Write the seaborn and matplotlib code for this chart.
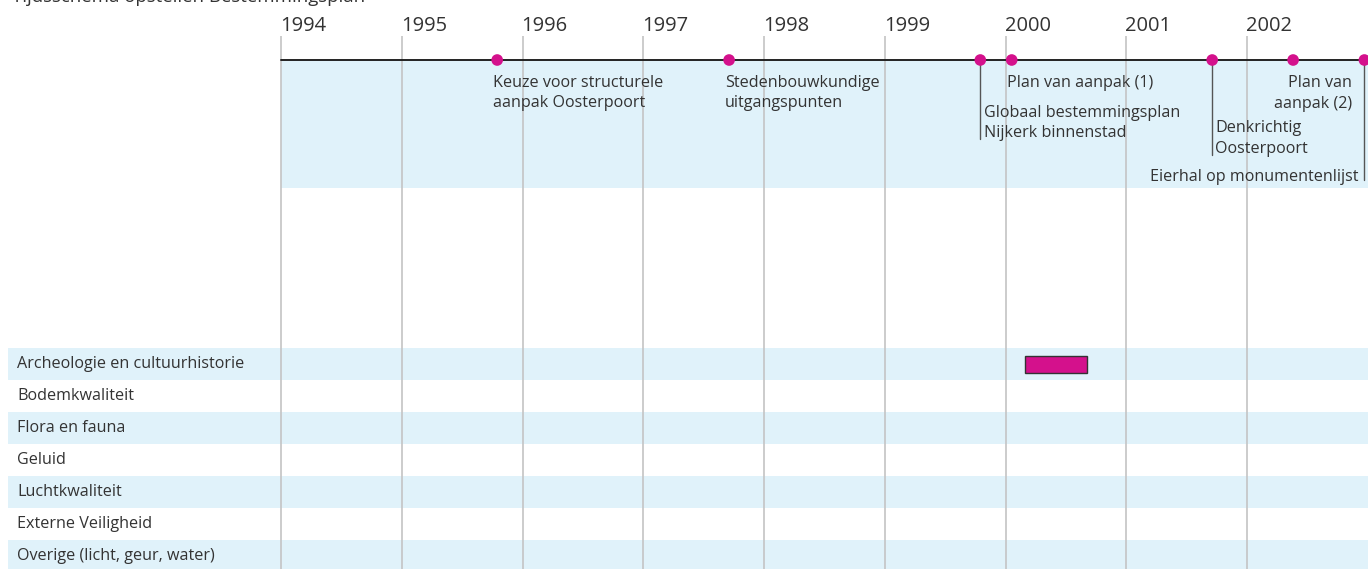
import matplotlib
matplotlib.use("Agg")
import matplotlib.pyplot as plt
import matplotlib.transforms as mtransforms
import seaborn as sns
import pandas as pd

# ---------------- data ----------------
years = [1994, 1995, 1996, 1997, 1998, 1999, 2000, 2001, 2002]
milestone_names = [
    "Keuze voor structurele\naanpak Oosterpoort",
    "Stedenbouwkundige\nuitgangspunten",
    "Globaal bestemmingsplan\nNijkerk binnenstad",
    "Plan van aanpak (1)",
    "Denkrichtig\nOosterpoort",
    "Plan van\naanpak (2)",
    "Eierhal op monumentenlijst",
]
milestone_dates = [1995.79, 1997.71, 1999.79, 2000.05, 2001.71, 2002.38, 2002.97]

categories = [
    "Archeologie en cultuurhistorie",
    "Bodemkwaliteit",
    "Flora en fauna",
    "Geluid",
    "Luchtkwaliteit",
    "Externe Veiligheid",
    "Overige (licht, geur, water)",
]
task_category = ["Archeologie en cultuurhistorie"]
task_start = [2000.16]
task_end = [2000.67]

title = "Tijdsschema opstellen Bestemmingsplan"

# ---------------- style ----------------
W, H, DPI = 1368, 569, 100
MAGENTA = "#d4118c"
LIGHT = "#e0f2fa"
TEXT = "#333333"
GRID = "#c4c4c4"
FS = 11.6

sns.set_theme(style="white")
plt.rcParams["font.family"] = ["Open Sans", "DejaVu Sans"]

fig = plt.figure(figsize=(W / DPI, H / DPI), dpi=DPI)
ax = fig.add_axes([0, 0, 1, 1])
px_per_year = (W - 281) / 9.0
x0 = 1994 - 281 / px_per_year
ax.set_xlim(x0, x0 + W / px_per_year)
ax.set_ylim(H, 0)  # y in layout pixels from top
ax.axis("off")

def px(dx):
    return mtransforms.ScaledTranslation(dx / DPI, 0, fig.dpi_scale_trans)

# title (cut off at top as in reference)
fig.text(12 / W, 1 - 2 / H, title, fontsize=13.4, color=TEXT, ha="left", va="baseline")

# top timeline band
timeline_y = 60
band_bottom = 188
ax.add_patch(plt.Rectangle((1994, timeline_y), 9, band_bottom - timeline_y,
                           facecolor=LIGHT, edgecolor="none", zorder=0))

# row bands
row_top = 348
row_h = 32
for i, cat in enumerate(categories):
    yc = row_top + row_h * i + row_h / 2
    if i % 2 == 0:
        ax.axhspan(yc - row_h / 2, yc + row_h / 2, xmin=8 / W, xmax=1,
                   facecolor=LIGHT, edgecolor="none", zorder=0)
    ax.text(17 / W, yc, cat, transform=mtransforms.blended_transform_factory(ax.transAxes, ax.transData),
            fontsize=FS, color=TEXT, ha="left", va="center")

# year grid lines and labels
ax.vlines(years, 36, H, color=GRID, lw=1.2, zorder=1)
for y in years:
    ax.text(y, 31, str(y), fontsize=14.5, color=TEXT, ha="left", va="baseline",
            transform=ax.transData + px(-1))

# timeline line
ax.plot([1994, x0 + W / px_per_year], [timeline_y, timeline_y], color="#222222", lw=1.4, zorder=2)

# milestone dots
df_m = pd.DataFrame({"date": milestone_dates, "y": [timeline_y] * len(milestone_dates)})
sns.scatterplot(data=df_m, x="date", y="y", ax=ax, color=MAGENTA, s=70,
                edgecolor="none", zorder=5, legend=False)

# milestone labels: (dx pixels, y centre of first line, ha, leader end y, linespacing)
label_layout = [
    (-4, 81, "left", None, 1.31),
    (-4, 81, "left", None, 1.31),
    (4, 111, "left", 139, 1.31),
    (-5, 81, "left", None, 1.31),
    (3, 126, "left", 155, 1.42),
    (59, 81, "right", None, 1.38),
    (-6, 175, "right", 180, 1.31),
]
for name, d, (dx, yc, ha, leader, ls) in zip(milestone_names, milestone_dates, label_layout):
    ax.text(d, yc - 6, name, fontsize=FS, color=TEXT, ha=ha, va="top",
            linespacing=ls, transform=ax.transData + px(dx), zorder=6)
    if leader is not None:
        ax.plot([d, d], [timeline_y, leader], color="#555555", lw=1.0, zorder=4)

# task bars
for cat, s, e in zip(task_category, task_start, task_end):
    i = categories.index(cat)
    yc = row_top + row_h * i + row_h / 2
    ax.barh(yc, e - s, left=s, height=17, color=MAGENTA, edgecolor="#333333",
            linewidth=1.0, zorder=6)

fig.savefig("out.png", dpi=DPI)
